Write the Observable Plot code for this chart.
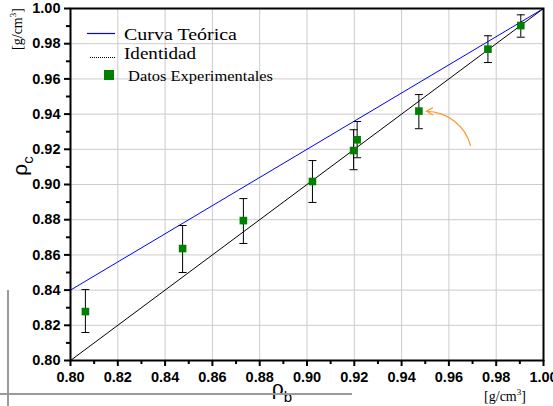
<!DOCTYPE html>
<html>
<head>
<meta charset="utf-8">
<script src="https://cdn.jsdelivr.net/npm/d3@7"></script>
<script src="https://cdn.jsdelivr.net/npm/@observablehq/plot@0.6"></script>
<style>
  html, body { margin: 0; padding: 0; background: white; }
  #wrap { position: relative; width: 553px; height: 406px; overflow: hidden; }
  #wrap svg { position: absolute; left: 0; top: 0; }
  .deco { position: absolute; background: #9a9a9a; z-index: 2; }
</style>
</head>
<body>
<div id="wrap"></div>
<script>
// Experimental data (rho_b, rho_c) and error bar limits
const rhoB = [0.8063, 0.8474, 0.8731, 0.9023, 0.9197, 0.9212, 0.9473, 0.9765, 0.9904];
const rhoC = [0.8278, 0.8636, 0.8795, 0.9017, 0.9193, 0.9254, 0.9417, 0.9769, 0.9903];
const errLo = [0.8159, 0.8500, 0.8665, 0.8898, 0.9084, 0.9152, 0.9317, 0.9693, 0.9837];
const errHi = [0.8403, 0.8767, 0.8920, 0.9136, 0.9311, 0.9358, 0.9511, 0.9845, 0.9964];
// Theoretical curve and identity line
const theoryX = [0.80, 1.00];
const theoryY = [0.84, 1.00];
const identX = [0.80, 1.00];
const identY = [0.80, 1.00];
// Annotation arrow
const arrowFrom = [0.9691, 0.9222];
const arrowTo = [0.9488, 0.9415];
// Ticks
const majorTicks = [0.80, 0.82, 0.84, 0.86, 0.88, 0.90, 0.92, 0.94, 0.96, 0.98, 1.00];
const minorTicks = [0.81, 0.83, 0.85, 0.87, 0.89, 0.91, 0.93, 0.95, 0.97, 0.99];
// Legend labels
const legendLabels = ["Curva Teórica", "Identidad", "Datos Experimentales"];

const data = rhoB.map((x, i) => ({x, y: rhoC[i], lo: errLo[i], hi: errHi[i]}));
const theory = theoryX.map((x, i) => ({x, y: theoryY[i]}));
const ident = identX.map((x, i) => ({x, y: identY[i]}));
const arrow = [{x1: arrowFrom[0], y1: arrowFrom[1], x2: arrowTo[0], y2: arrowTo[1]}];

const capSymbol = { draw(ctx, size) { ctx.moveTo(-4, 0); ctx.lineTo(4, 0); } };

const chart = Plot.plot({
  width: 553, height: 406,
  marginLeft: 70, marginRight: 10, marginTop: 8, marginBottom: 46,
  x: {domain: [0.8, 1.0]},
  y: {domain: [0.8, 1.0]},
  style: {fontFamily: "'Liberation Sans', Arial, sans-serif", fontSize: "14.5px", fontWeight: "bold", background: "white", overflow: "visible"},
  marks: [
    Plot.gridX(majorTicks, {stroke: "#cccccc", strokeOpacity: 1, strokeWidth: 1}),
    Plot.gridY(majorTicks, {stroke: "#cccccc", strokeOpacity: 1, strokeWidth: 1}),
    Plot.line(ident, {x: "x", y: "y", stroke: "black", strokeWidth: 1}),
    Plot.line(theory, {x: "x", y: "y", stroke: "#0000ff", strokeWidth: 1}),
    Plot.ruleX(data, {x: "x", y1: "lo", y2: "hi", stroke: "black", strokeWidth: 1}),
    Plot.dot(data, {x: "x", y: "lo", symbol: capSymbol, stroke: "black", fill: "none", strokeWidth: 1}),
    Plot.dot(data, {x: "x", y: "hi", symbol: capSymbol, stroke: "black", fill: "none", strokeWidth: 1}),
    Plot.dot(data, {x: "x", y: "y", symbol: "square", fill: "#008000", stroke: "none", r: 4.3}),
    Plot.arrow(arrow, {x1: "x1", y1: "y1", x2: "x2", y2: "y2", bend: -40, stroke: "#ff9a2e", strokeWidth: 1.3, headLength: 8, insetEnd: 4}),
    Plot.frame({stroke: "black", strokeWidth: 2}),
    Plot.axisX({ticks: majorTicks, tickSize: 6, tickPadding: 5, tickFormat: d3.format(".2f"), label: null, strokeWidth: 2}),
    Plot.axisX({ticks: minorTicks, tickSize: 4, tickFormat: () => "", label: null, strokeWidth: 2}),
    Plot.axisY({ticks: majorTicks, tickSize: 6, tickPadding: 4, tickFormat: d3.format(".2f"), label: null, strokeWidth: 2}),
    Plot.axisY({ticks: minorTicks, tickSize: 4, tickFormat: () => "", label: null, strokeWidth: 2})
  ]
});
const wrap = document.getElementById("wrap");
wrap.appendChild(chart);
wrap.insertAdjacentHTML("beforeend",
  '<div class="deco" style="left:0;top:393px;width:352px;height:2px;"></div>' +
  '<div class="deco" style="left:7px;top:290px;width:2px;height:116px;"></div>');

// Extra labels and legend
const svg = d3.select(chart);
const serif = "'Liberation Serif', 'Times New Roman', serif";
const sans = "'Liberation Sans', Arial, sans-serif";

// y label rho_c
const yl = svg.append("text").attr("transform", "translate(27,166) rotate(-90)")
  .attr("text-anchor", "middle").attr("font-family", sans).attr("font-size", 21).attr("font-weight", "normal").attr("fill", "black");
yl.append("tspan").text("ρ");
yl.append("tspan").attr("dy", 6).attr("font-size", 15).text("c");

// x label rho_b
const xl = svg.append("text").attr("x", 282).attr("y", 395)
  .attr("text-anchor", "middle").attr("font-family", sans).attr("font-size", 21).attr("font-weight", "normal").attr("fill", "black");
xl.append("tspan").text("ρ");
xl.append("tspan").attr("dy", 7).attr("font-size", 15).text("b");

// unit labels
function unit(g) {
  g.append("tspan").text("[g/cm");
  g.append("tspan").attr("dy", -6).attr("font-size", 9).text("3");
  g.append("tspan").attr("dy", 6).text("]");
}
unit(svg.append("text").attr("transform", "translate(22,29) rotate(-90)")
  .attr("text-anchor", "middle").attr("font-family", serif).attr("font-size", 14).attr("font-weight", "normal").attr("fill", "black"));
unit(svg.append("text").attr("x", 505).attr("y", 401)
  .attr("text-anchor", "middle").attr("font-family", serif).attr("font-size", 14).attr("font-weight", "normal").attr("fill", "black"));

// legend
const lg = svg.append("g").attr("font-family", serif).attr("font-weight", "normal").attr("fill", "black").attr("text-anchor", "start");
lg.append("line").attr("x1", 87).attr("x2", 115).attr("y1", 33.5).attr("y2", 33.5).attr("stroke", "#0000ff").attr("stroke-width", 1.2);
lg.append("text").attr("x", 124).attr("y", 40).attr("font-size", 16.5)
  .attr("textLength", 113).attr("lengthAdjust", "spacingAndGlyphs").text(legendLabels[0]);
lg.append("line").attr("x1", 90).attr("x2", 115).attr("y1", 57.5).attr("y2", 57.5).attr("stroke", "black").attr("stroke-dasharray", "1,1");
lg.append("text").attr("x", 124).attr("y", 59).attr("font-size", 16.5)
  .attr("textLength", 72).attr("lengthAdjust", "spacingAndGlyphs").text(legendLabels[1]);
lg.append("rect").attr("x", 104).attr("y", 70).attr("width", 10).attr("height", 10).attr("fill", "#008000");
lg.append("text").attr("x", 128).attr("y", 81).attr("font-size", 15)
  .attr("textLength", 145).attr("lengthAdjust", "spacingAndGlyphs").text(legendLabels[2]);
</script>
</body>
</html>
